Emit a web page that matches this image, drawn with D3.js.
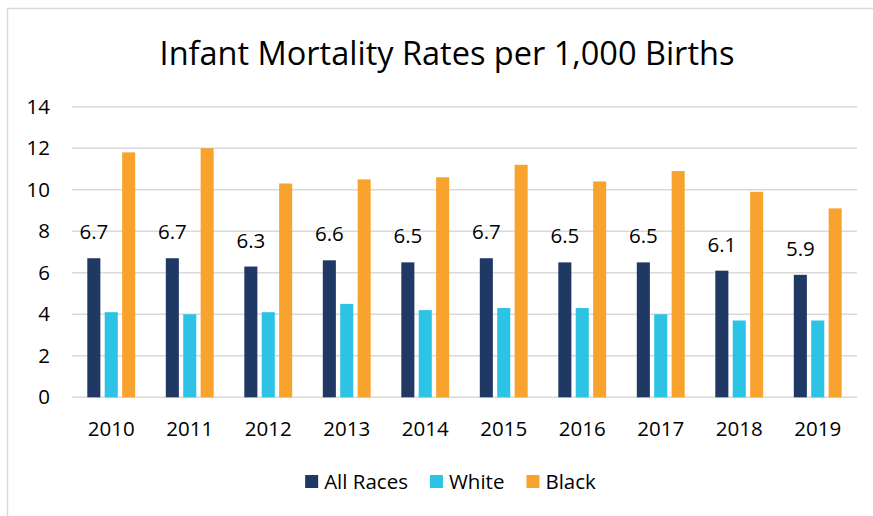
<!doctype html>
<html>
<head>
<meta charset="utf-8">
<script src="https://cdn.jsdelivr.net/npm/d3@7"></script>
<style>
  body { margin: 0; background: #fff; }
  svg { display: block; font-family: "Open Sans", sans-serif; }
</style>
</head>
<body>
<svg id="chart" width="873" height="516"></svg>
<script>
  var years = ['2010', '2011', '2012', '2013', '2014', '2015', '2016', '2017', '2018', '2019'];
  var series = ['All Races', 'White', 'Black'];
  var allRaces = [6.7, 6.7, 6.3, 6.6, 6.5, 6.7, 6.5, 6.5, 6.1, 5.9];
  var white = [4.1, 4.0, 4.1, 4.5, 4.2, 4.3, 4.3, 4.0, 3.7, 3.7];
  var black = [11.8, 12.0, 10.3, 10.5, 10.6, 11.2, 10.4, 10.9, 9.9, 9.1];
  var yTicks = [0, 2, 4, 6, 8, 10, 12, 14];
  var colors = ['#203864', '#2cc3e4', '#f9a32f'];

  var values = [allRaces, white, black];

  var svg = d3.select('#chart');

  // chart area border (right/bottom edges fall outside the picture)
  svg.append('rect')
    .attr('x', 7.5).attr('y', 8.5)
    .attr('width', 900).attr('height', 540)
    .attr('fill', '#fff')
    .attr('stroke', '#d9d9d9')
    .attr('stroke-width', 1.5);

  svg.append('text')
    .attr('x', 447).attr('y', 65)
    .attr('text-anchor', 'middle')
    .attr('font-size', 32.5)
    .attr('fill', '#000')
    .text('Infant Mortality Rates per 1,000 Births');

  var x0 = d3.scaleBand()
    .domain(years)
    .range([72, 857])
    .paddingInner(0.39)
    .paddingOuter(0.195);

  var x1 = d3.scaleBand()
    .domain(series)
    .range([0, x0.bandwidth()])
    .paddingInner(0.25);

  var y = d3.scaleLinear()
    .domain([0, 14])
    .range([397.3, 106.7]);

  // gridlines
  svg.append('g')
    .selectAll('line')
    .data(yTicks)
    .enter().append('line')
    .attr('x1', 72).attr('x2', 857)
    .attr('y1', function (d) { return y(d); })
    .attr('y2', function (d) { return y(d); })
    .attr('stroke', '#d9d9d9')
    .attr('stroke-width', 1.5);

  var yAxis = svg.append('g')
    .attr('transform', 'translate(50,0)')
    .call(d3.axisLeft(y).tickValues(yTicks).tickSize(0).tickPadding(0));
  yAxis.select('.domain').remove();
  yAxis.selectAll('text')
    .attr('font-size', 20.5)
    .attr('font-family', '"Open Sans", sans-serif')
    .attr('fill', '#000');

  var xAxis = svg.append('g')
    .attr('transform', 'translate(0,' + y(0) + ')')
    .call(d3.axisBottom(x0).tickSize(0).tickPadding(0));
  xAxis.select('.domain').remove();
  xAxis.selectAll('text')
    .attr('font-size', 20.5)
    .attr('font-family', '"Open Sans", sans-serif')
    .attr('fill', '#000')
    .attr('dy', null)
    .attr('y', 39);

  var groups = svg.append('g')
    .selectAll('g')
    .data(years)
    .enter().append('g')
    .attr('transform', function (d) { return 'translate(' + x0(d) + ',0)'; });

  groups.selectAll('rect')
    .data(function (d, i) {
      return series.map(function (s, j) { return { key: s, value: values[j][i], c: colors[j] }; });
    })
    .enter().append('rect')
    .attr('x', function (d) { return x1(d.key); })
    .attr('width', x1.bandwidth())
    .attr('y', function (d) { return y(d.value); })
    .attr('height', function (d) { return y(0) - y(d.value); })
    .attr('fill', function (d) { return d.c; });

  // data labels on All Races only
  groups.append('text')
    .attr('x', x1('All Races') + x1.bandwidth() / 2)
    .attr('y', function (d, i) { return y(allRaces[i]) - 19; })
    .attr('text-anchor', 'middle')
    .attr('font-size', 20.5)
    .attr('fill', '#000')
    .text(function (d, i) { return allRaces[i].toFixed(1); });

  // legend
  var legend = svg.append('g');
  var items = legend.selectAll('g')
    .data(series)
    .enter().append('g');
  items.append('rect')
    .attr('width', 13).attr('height', 13)
    .attr('y', 475)
    .attr('fill', function (d, i) { return colors[i]; });
  items.append('text')
    .attr('y', 488.5)
    .attr('font-size', 20.5)
    .attr('fill', '#000')
    .text(function (d) { return d; });

  var pos = 0;
  var offsets = [];
  items.each(function () {
    var w = this.querySelector('text').getComputedTextLength();
    offsets.push(pos);
    pos += 13 + 6 + w + 22;
  });
  var total = pos - 22;
  var start = 450.5 - total / 2;
  items.each(function (d, i) {
    d3.select(this).select('rect').attr('x', start + offsets[i]);
    d3.select(this).select('text').attr('x', start + offsets[i] + 19);
  });
</script>
</body>
</html>
